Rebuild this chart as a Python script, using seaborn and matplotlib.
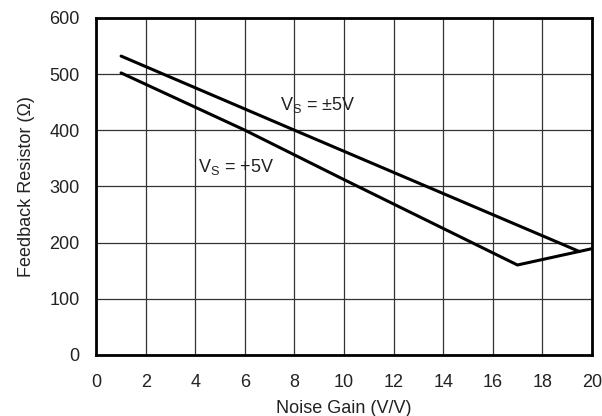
import pandas as pd
import matplotlib.pyplot as plt
import seaborn as sns

# curves
gain_dual = [1, 8, 19.5]
rf_dual = [532, 400, 184]
gain_single = [1, 6, 10, 17, 20]
rf_single = [502, 400, 312, 160, 189]

x_ticks = list(range(0, 21, 2))
y_ticks = list(range(0, 601, 100))

sns.set_theme(style="white")
plt.rcParams['font.family'] = ['Liberation Sans', 'DejaVu Sans']

df_dual = pd.DataFrame({"gain": gain_dual, "rf": rf_dual})
df_single = pd.DataFrame({"gain": gain_single, "rf": rf_single})

fig, ax = plt.subplots(figsize=(6.02, 4.16), dpi=100)
sns.lineplot(x="gain", y="rf", data=df_dual, ax=ax, color="black", linewidth=2.2, sort=False)
sns.lineplot(x="gain", y="rf", data=df_single, ax=ax, color="black", linewidth=2.2, sort=False)

ax.set_xlim(0, 20)
ax.set_ylim(0, 600)
ax.set_xticks(x_ticks)
ax.set_yticks(y_ticks)
ax.grid(True, color="#333333", linewidth=0.9)
for s in ax.spines.values():
    s.set_color("black")
    s.set_linewidth(2)
ax.tick_params(axis="x", labelsize=13, colors="#222222", length=0, pad=14)
ax.tick_params(axis="y", labelsize=13, colors="#222222", length=0, pad=12)

ax.set_xlabel("Noise Gain (V/V)", fontsize=13, color="#222222", labelpad=6)
ax.set_ylabel("Feedback Resistor (Ω)", fontsize=13, color="#222222", labelpad=10)

ax.text(7.4, 445, "V$_\\mathregular{S}$ = ±5V", fontsize=13, color="#222222", va="center")
ax.text(4.1, 335, "V$_\\mathregular{S}$ = +5V", fontsize=13, color="#222222", va="center")

plt.subplots_adjust(left=0.16, right=0.983, top=0.957, bottom=0.147)
plt.savefig("out.png", dpi=100)
